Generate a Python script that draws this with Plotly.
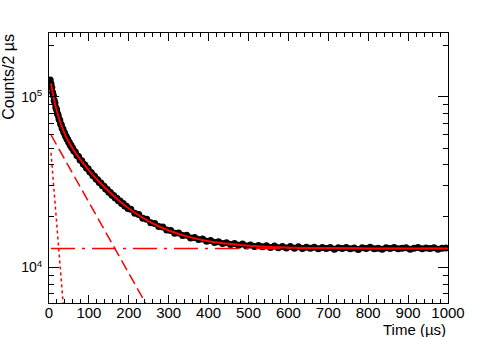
import plotly.graph_objects as go

# bin centres (2 us bins, thinned out)
time_us = list(range(1, 60, 2)) + list(range(62, 200, 4)) + list(range(205, 1000, 10))

counts = [
    117000, 125000, 119000, 113100, 105600, 101500, 95000, 91900, 86500, 84100,
    79600, 77900, 74000, 72700, 69300, 68200, 65300, 64500, 61900, 61300,
    59000, 58500, 56400, 56100, 54200, 53900, 52100, 51900, 50300, 50100,
    48200, 47400, 45200, 44600, 42600, 42100, 40300, 39800, 38200, 37800,
    36300, 35900, 34550, 34200, 32950, 32650, 31450, 31200, 30050, 29850,
    28800, 28600, 27600, 27450, 26500, 26400, 25500, 25400, 24550, 24500,
    23700, 23650, 22900, 22850, 22150,
    21900, 20750, 20400, 19400, 19150, 18250, 18100, 17350, 17250, 16550,
    16450, 15850, 15900, 15400, 15450, 14900, 15000, 14600, 14700, 14250,
    14400, 14000, 14150, 13800, 13950, 13650, 13800, 13500, 13700, 13350,
    13550, 13250, 13450, 13200, 13400, 13100, 13350, 13050, 13250, 13000,
    13250, 12950, 13200, 12900, 13150, 12950, 13150, 12850, 13100, 12900,
    13100,
    12800, 13050, 12900, 13100, 12850, 13000, 12750, 13050, 12900, 13150,
    12850, 12950, 12800, 13050, 12900, 13100, 12850, 12950, 13050, 12800,
    12950, 13100, 12850, 13000, 12900, 13050, 12800, 12950, 13000,
]
assert len(time_us) == len(counts)

# total fit
fit_t = [5, 8, 12, 16, 20, 25, 30, 35, 40, 45, 50, 60, 70, 80, 90, 100, 125, 150,
         175, 200, 250, 300, 350, 400, 450, 500, 600, 700, 800, 900, 1000]
fit_y = [119500, 109300, 98140, 89160, 81870, 74570, 68760, 64050, 60160, 56870,
         54050, 49370, 45570, 42340, 39530, 37030, 31850, 27810, 24640, 22140,
         18630, 16450, 15100, 14260, 13750, 13420, 13100, 12980, 12930, 12910, 12900]

# fit components (straight on the log axis)
fast_t = [5, 45]
fast_y = [46900, 3260]
slow_t = [5, 300]
slow_y = [59700, 3550]
flat_t = [5, 1000]
flat_y = [12900, 12900]

RED = "rgb(255,0,0)"
FONT = "Liberation Sans, Arial, sans-serif"

fig = go.Figure()
fig.add_trace(go.Scatter(x=time_us, y=counts, mode="markers",
                         marker=dict(color="black", size=7)))
fig.add_trace(go.Scatter(x=fast_t, y=fast_y, mode="lines",
                         line=dict(color=RED, width=1.5, dash="3px,3px")))
fig.add_trace(go.Scatter(x=slow_t, y=slow_y, mode="lines",
                         line=dict(color=RED, width=1.5, dash="11px,5px")))
fig.add_trace(go.Scatter(x=flat_t, y=flat_y, mode="lines",
                         line=dict(color=RED, width=1.5, dash="24px,7px,3px,7px")))
fig.add_trace(go.Scatter(x=fit_t, y=fit_y, mode="lines", line_shape="spline",
                         line=dict(color=RED, width=2)))

minor_y = [m * 10 ** e for e in (3, 4, 5) for m in range(2, 10)]

fig.update_layout(
    width=498, height=337,
    margin=dict(l=49, r=50, t=33, b=34),
    paper_bgcolor="white", plot_bgcolor="white",
    showlegend=False,
    font=dict(family=FONT, size=15, color="black"),
    xaxis=dict(
        range=[0, 1000], showgrid=False, zeroline=False,
        showline=True, linecolor="black", linewidth=1, mirror="allticks",
        ticks="inside", ticklen=8, tickcolor="black", dtick=100, tick0=0,
        minor=dict(ticks="inside", ticklen=4, dtick=20, tickcolor="black"),
        tickfont=dict(size=15), ticklabelstandoff=-4, automargin=False,
    ),
    yaxis=dict(
        type="log", range=[3.792, 5.3725], showgrid=False, zeroline=False,
        showline=True, linecolor="black", linewidth=1, mirror="allticks",
        ticks="inside", ticklen=10, tickcolor="black",
        tickvals=[1e4, 1e5], ticktext=["10<sup>4</sup>", "10<sup>5</sup>"],
        minor=dict(ticks="inside", ticklen=5, tickvals=minor_y, tickcolor="black"),
        tickfont=dict(size=14), ticklabelstandoff=3, automargin=False,
    ),
    annotations=[
        dict(text="Time (µs)", xref="paper", yref="paper", x=1, y=-0.097,
             xanchor="right", yanchor="middle", showarrow=False,
             font=dict(size=15)),
        dict(text="Counts/2 µs", xref="paper", yref="paper", x=-0.1, y=1.005,
             xanchor="center", yanchor="top", textangle=-90, showarrow=False,
             font=dict(size=16)),
    ],
)

# drop the default 8px page margin so the figure sits at the window corner
fig.write_html("out.html", config={"displayModeBar": False},
               post_script="document.body.style.margin='0';")
